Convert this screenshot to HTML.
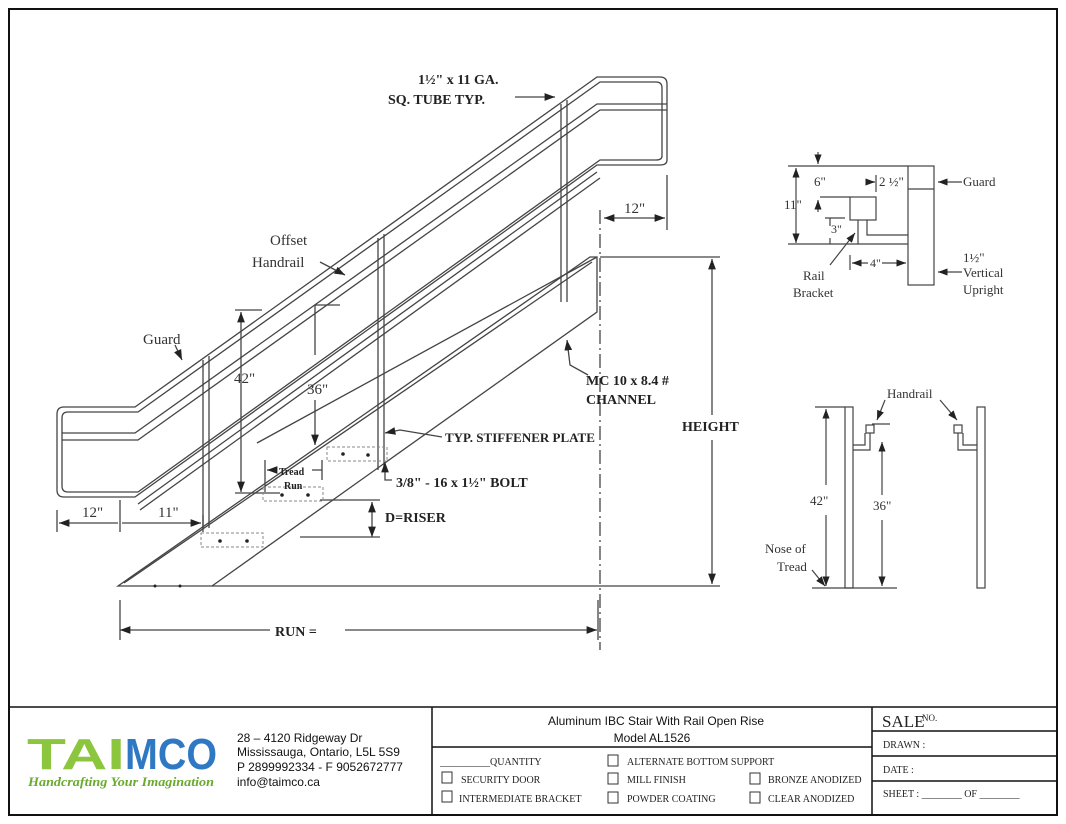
<!DOCTYPE html>
<html><head><meta charset="utf-8"><style>
body{margin:0;background:#fff;width:1066px;height:824px;overflow:hidden}
svg{display:block}
.s{font-family:"Liberation Serif",serif;font-weight:bold;fill:#222}
.n{font-family:"Liberation Serif",serif;fill:#333}
.m{font-family:"Liberation Serif",serif;fill:#222;font-size:10px}
</style></head><body>
<svg width="1066" height="824" viewBox="0 0 1066 824">
<defs><marker id="a" markerWidth="8" markerHeight="6" refX="8" refY="3" orient="auto"><path d="M0,0L8,3L0,6z" fill="#222"/></marker>
<marker id="b" markerWidth="8" markerHeight="6" refX="0" refY="3" orient="auto"><path d="M8,0L0,3L8,6z" fill="#222"/></marker></defs>
<rect x="9" y="9" width="1048" height="806" fill="none" stroke="#111" stroke-width="2"/>
<g fill="none" stroke="#444" stroke-width="1.3">
<path d="M135,407 L597,77 L660,77 Q667,77 667,84 L667,160 Q667,165 660,165 L597,165 L135,497 L64,497 Q57,497 57,490 L57,414 Q57,407 64,407 Z"/>
<path d="M138,412 L600,82 L656,82 Q662,82 662,88 L662,156 Q662,160 656,160 L600,160 L138,492 L68,492 Q62,492 62,486 L62,418 Q62,412 68,412 Z"/>
<path d="M62,433 L135,433 L597,104 L667,104"/>
<path d="M62,440 L138,440 L600,110 L667,110"/>
<path d="M138,504 L597,172"/><path d="M140,510 L600,178"/>
<path d="M203,360V528M209,356V528M378,238V470M384,234V470M561,104V302M567,100V302"/>
<path d="M118,586L590,257L597,257L597,312L212,586Z"/>
<path d="M124,583L592,262"/>
<path d="M257,443L597,257"/>
<path d="M57,510V532M120,500V532M203,515V532"/>
<path d="M59,523H118M122,523H201" marker-start="url(#b)" marker-end="url(#a)"/>
<path d="M241,312V492" marker-start="url(#b)" marker-end="url(#a)"/>
<path d="M235,310H262M235,493H280"/>
<path d="M315,305V355M315,400V445" marker-end="url(#a)"/><path d="M315,305H340"/>
<path d="M372,502V537" marker-start="url(#b)" marker-end="url(#a)"/><path d="M320,500H380M300,537H380"/>
<path d="M267,470H276M312,470H322" marker-start="url(#b)"/><path d="M265,460V492M322,460V480"/>
<path d="M120,600V640M598,600V640"/>
<path d="M120,630H270M345,630H597" marker-start="url(#b)" marker-end="url(#a)"/>
<path d="M712,259V415M712,440V584" marker-start="url(#b)" marker-end="url(#a)"/>
<path d="M600,257H720M212,586H720"/>
<path d="M600,210V650" stroke-dasharray="14,4,2,4"/><path d="M667,175V230"/>
<path d="M604,218H665" marker-start="url(#b)" marker-end="url(#a)"/>
<path d="M515,97H555" marker-end="url(#a)"/>
<path d="M320,262L345,275" marker-end="url(#a)"/>
<path d="M175,345L182,360" marker-end="url(#a)"/>
<path d="M588,375L570,365L567,340" marker-end="url(#a)"/>
<path d="M442,437L400,430L385,433" marker-end="url(#a)"/>
<path d="M392,480L385,480L385,462" marker-end="url(#a)"/>
</g>
<g fill="none" stroke="#888" stroke-dasharray="3,2">
<rect x="201" y="533" width="62" height="14"/><rect x="263" y="487" width="60" height="14"/><rect x="327" y="447" width="60" height="14"/>
</g>
<g fill="#222"><circle cx="220" cy="541" r="1.8"/><circle cx="247" cy="541" r="1.8"/><circle cx="282" cy="495" r="1.8"/><circle cx="308" cy="495" r="1.8"/><circle cx="343" cy="454" r="1.8"/><circle cx="368" cy="455" r="1.8"/><circle cx="155" cy="586" r="1.5"/><circle cx="180" cy="586" r="1.5"/></g>
<text class="s" x="418" y="84" font-size="14">1½" x 11 GA.</text>
<text class="s" x="388" y="104" font-size="14">SQ. TUBE TYP.</text>
<text class="n" x="270" y="245" font-size="15">Offset</text><text class="n" x="252" y="267" font-size="15">Handrail</text>
<text class="n" x="143" y="344" font-size="15">Guard</text>
<text class="n" x="234" y="383" font-size="15">42"</text><text class="n" x="307" y="394" font-size="15">36"</text>
<text class="s" x="586" y="385" font-size="14">MC 10 x 8.4 #</text><text class="s" x="586" y="404" font-size="14">CHANNEL</text>
<text class="s" x="445" y="442" font-size="13">TYP. STIFFENER PLATE</text>
<text class="s" x="682" y="431" font-size="14">HEIGHT</text>
<text class="s" x="396" y="487" font-size="14">3/8" - 16 x 1½" BOLT</text>
<text class="s" x="385" y="522" font-size="14">D=RISER</text>
<text class="s" x="279" y="475" font-size="10">Tread</text><text class="s" x="284" y="489" font-size="10">Run</text>
<text class="n" x="82" y="517" font-size="15">12"</text><text class="n" x="158" y="517" font-size="15">11"</text>
<text class="n" x="624" y="213" font-size="15">12"</text>
<text class="s" x="275" y="636" font-size="14">RUN =</text>
<!-- top-right detail -->
<g fill="none" stroke="#444" stroke-width="1.2">
<rect x="908" y="166" width="26" height="119"/><path d="M908,189H934"/>
<rect x="850" y="197" width="26" height="23"/>
<path d="M858,220V244M867,220V235H908"/>
<path d="M788,166H908M788,244H908"/>
<path d="M818,152V164" marker-end="url(#a)"/>
<path d="M796,168V243" marker-start="url(#b)" marker-end="url(#a)"/>
<path d="M876,175V192M866,182H874" /><path d="M866,182H875" marker-end="url(#a)"/>
<path d="M820,197H850M825,197H827"/><path d="M818,200V212" marker-start="url(#b)"/>
<path d="M830,218V226M830,238V244" /><path d="M825,218H845"/>
<path d="M850,255V270"/><path d="M852,263H906" marker-start="url(#b)" marker-end="url(#a)"/>
<path d="M830,265L855,233" marker-end="url(#a)"/>
<path d="M962,182H938" marker-end="url(#a)"/><path d="M962,272H938" marker-end="url(#a)"/>
</g>
<rect x="868" y="257" width="14" height="12" fill="#fff"/>
<text class="n" x="814" y="186" font-size="13">6"</text><text class="n" x="879" y="186" font-size="13">2 ½"</text>
<text class="n" x="963" y="186" font-size="13">Guard</text>
<text class="n" x="784" y="209" font-size="13">11"</text><text class="n" x="831" y="233" font-size="12">3"</text>
<text class="n" x="870" y="267" font-size="12">4"</text>
<text class="n" x="803" y="280" font-size="13">Rail</text><text class="n" x="793" y="297" font-size="13">Bracket</text>
<text class="n" x="963" y="262" font-size="13">1½"</text><text class="n" x="963" y="277" font-size="13">Vertical</text><text class="n" x="963" y="294" font-size="13">Upright</text>
<!-- bottom-right detail -->
<g fill="none" stroke="#444" stroke-width="1.2">
<rect x="845" y="407" width="8" height="181"/><rect x="977" y="407" width="8" height="181"/>
<path d="M853,445H865V433M853,450H870V433"/><rect x="866" y="425" width="8" height="8"/>
<path d="M977,445H963V433M977,450H958V433"/><rect x="954" y="425" width="8" height="8"/>
<path d="M815,407H845M812,588H897M872,424H890"/>
<path d="M826,409V485M826,515V586" marker-start="url(#b)" marker-end="url(#a)"/>
<path d="M882,442V495M882,520V586" marker-start="url(#b)" marker-end="url(#a)"/>
<path d="M885,400L877,420" marker-end="url(#a)"/><path d="M940,400L957,420" marker-end="url(#a)"/>
<path d="M812,570L825,586" marker-end="url(#a)"/>
</g>
<text class="n" x="887" y="398" font-size="13">Handrail</text>
<text class="n" x="810" y="505" font-size="13">42"</text><text class="n" x="873" y="510" font-size="13">36"</text>
<text class="n" x="765" y="553" font-size="13">Nose of</text><text class="n" x="777" y="571" font-size="13">Tread</text>
<!-- title block -->
<g fill="none" stroke="#111" stroke-width="1.5">
<path d="M9,707H1057M432,707V815M872,707V815M432,747H872M872,731H1057M872,756H1057M872,781H1057"/>
</g>
<text x="27" y="769" font-family="Liberation Sans,sans-serif" font-weight="bold" font-size="44" fill="#8cc63f" textLength="98" lengthAdjust="spacingAndGlyphs">TAI</text>
<text x="125" y="769" font-family="Liberation Sans,sans-serif" font-weight="bold" font-size="44" fill="#2f78c4" textLength="92" lengthAdjust="spacingAndGlyphs">MCO</text>
<text x="28" y="786" font-family="Liberation Serif,serif" font-style="italic" font-weight="bold" font-size="13" fill="#6aaa2f" textLength="186" lengthAdjust="spacingAndGlyphs">Handcrafting Your Imagination</text>
<g font-family="Liberation Sans,sans-serif" font-size="12" fill="#111">
<text x="237" y="742">28 – 4120 Ridgeway Dr</text><text x="237" y="756">Mississauga, Ontario, L5L 5S9</text>
<text x="237" y="771">P 2899992334 - F 9052672777</text><text x="237" y="786">info@taimco.ca</text>
<text x="656" y="725" text-anchor="middle">Aluminum IBC  Stair With Rail Open Rise</text>
<text x="652" y="742" text-anchor="middle">Model AL1526</text>
</g>
<g class="m">
<text x="440" y="765">__________QUANTITY</text><text x="627" y="765">ALTERNATE BOTTOM SUPPORT</text>
<text x="461" y="783">SECURITY DOOR</text><text x="627" y="783">MILL FINISH</text><text x="768" y="783">BRONZE ANODIZED</text>
<text x="459" y="802">INTERMEDIATE BRACKET</text><text x="627" y="802">POWDER COATING</text><text x="768" y="802">CLEAR ANODIZED</text>
<text x="883" y="748">DRAWN :</text><text x="883" y="773">DATE :</text><text x="883" y="797">SHEET :   ________  OF  ________</text>
</g>
<text x="882" y="727" font-family="Liberation Serif,serif" font-size="17" fill="#222">SALE</text><text x="922" y="721" font-family="Liberation Serif,serif" font-size="9" fill="#222">NO.</text>
<g fill="none" stroke="#333"><rect x="442" y="772" width="10" height="11"/><rect x="442" y="791" width="10" height="11"/><rect x="608" y="755" width="10" height="11"/><rect x="608" y="773" width="10" height="11"/><rect x="608" y="792" width="10" height="11"/><rect x="750" y="773" width="10" height="11"/><rect x="750" y="792" width="10" height="11"/></g>
</svg>
</body></html>
